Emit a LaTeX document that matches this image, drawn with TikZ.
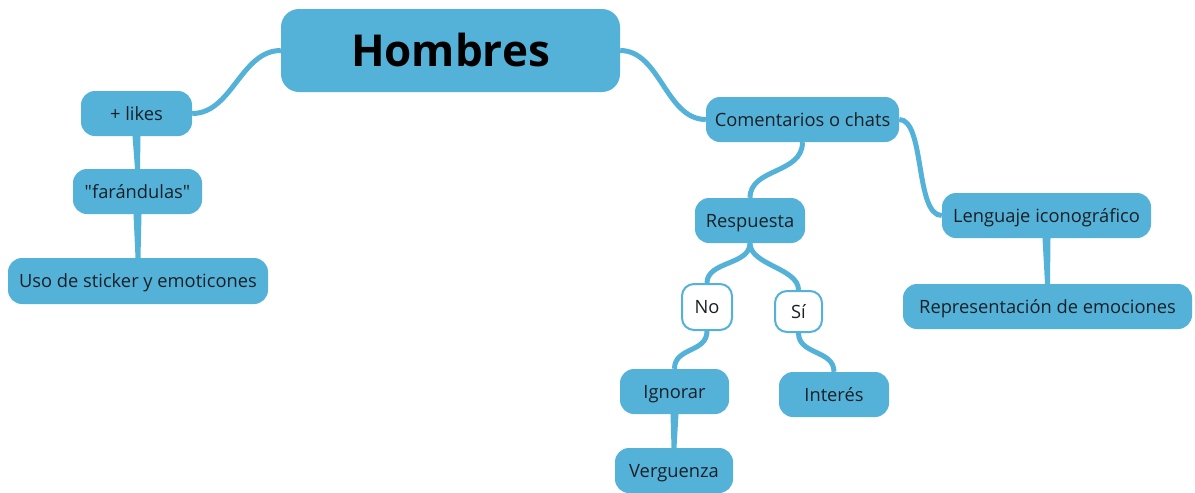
\documentclass[tikz,border=0pt]{standalone}
\usepackage{fontspec}
\setmainfont{Open Sans}[Ligatures=TeXOff]
\usetikzlibrary{backgrounds}
\definecolor{mmblue}{RGB}{84,178,217}
\definecolor{mmtext}{RGB}{24,32,38}
\tikzset{
  topic/.style={fill=mmblue, rounded corners=14pt, minimum height=45pt, inner sep=0pt,
    text height=13pt, text depth=0pt,
    text=mmtext, font=\fontsize{18.3}{22}\selectfont},
  wtopic/.style={fill=white, draw=mmblue, line width=2pt, rounded corners=12pt, inner sep=0pt,
    text height=13pt, text depth=0pt,
    text=mmtext, font=\fontsize{18.3}{22}\selectfont},
  link/.style={draw=mmblue, line width=5pt},
  stem/.style={fill=mmblue}
}
\begin{document}
\begin{tikzpicture}[x=1pt,y=-1pt]
\useasboundingbox (0,0) rectangle (1195,493);
\node[topic, minimum width=339pt, minimum height=83pt, rounded corners=18pt,
  text height=31pt, font=\fontsize{44}{52}\selectfont\bfseries, text=black] (hom) at (450.5,50.5) {Hombres};
\node[topic, minimum width=111pt] (likes) at (136.5,113.5) {+ likes};
\node[topic, minimum width=129pt] (far) at (137.5,191.5) {"farándulas"};
\node[topic, minimum width=260pt, minimum height=46pt] (uso) at (138,281) {Uso de sticker y emoticones};
\node[topic, minimum width=193pt] (com) at (802.5,119.5) {Comentarios o chats};
\node[topic, minimum width=110pt] (resp) at (750,220.5) {Respuesta};
\node[wtopic, minimum width=50pt, minimum height=46pt] (no) at (707,307) {No};
\node[wtopic, minimum width=47pt, minimum height=41pt] (si) at (798.5,311.5) {Sí};
\node[topic, minimum width=109pt] (ign) at (674.5,391.5) {Ignorar};
\node[topic, minimum width=110pt] (int) at (834,394.5) {Interés};
\node[topic, minimum width=118pt] (ver) at (674,470.5) {Verguenza};
\node[topic, minimum width=209pt] (leng) at (1046.5,215.5) {Lenguaje iconográfico};
\node[topic, minimum width=289pt] (rep) at (1047.5,306.5) {Representación de emociones};
\begin{pgfonlayer}{background}
\draw[link] (hom.west) .. controls +(-40,0) and +(40,0) .. (likes.east);
\draw[link] (hom.east) .. controls +(40,0) and +(-40,0) .. (com.west);
\draw[link] (com.east) .. controls +(26,0) and +(-27,0) .. (leng.west);
\draw[link] (com.south) .. controls +(0,32) and +(0,-30) .. (resp.north);
\draw[link] (resp.south) .. controls +(0,22) and +(0,-22) .. (no.north);
\draw[link] (resp.south) .. controls +(0,22) and +(0,-22) .. (si.north);
\draw[link] (no.south) .. controls +(0,22) and +(0,-22) .. (ign.north);
\draw[link] (si.south) .. controls +(0,22) and +(0,-22) .. (int.north);
\fill[stem] ([xshift=-4pt]likes.south) -- ([xshift=4pt]likes.south) -- ([xshift=2.5pt]far.north) -- ([xshift=-2.5pt]far.north) -- cycle;
\fill[stem] ([xshift=-4pt]far.south) -- ([xshift=4pt]far.south) -- ([xshift=2.5pt]uso.north) -- ([xshift=-2.5pt]uso.north) -- cycle;
\fill[stem] ([xshift=-4pt]ign.south) -- ([xshift=4pt]ign.south) -- ([xshift=2.5pt]ver.north) -- ([xshift=-2.5pt]ver.north) -- cycle;
\fill[stem] ([xshift=-4pt]leng.south) -- ([xshift=4pt]leng.south) -- ([xshift=2.5pt]rep.north) -- ([xshift=-2.5pt]rep.north) -- cycle;
\end{pgfonlayer}
\end{tikzpicture}
\end{document}
